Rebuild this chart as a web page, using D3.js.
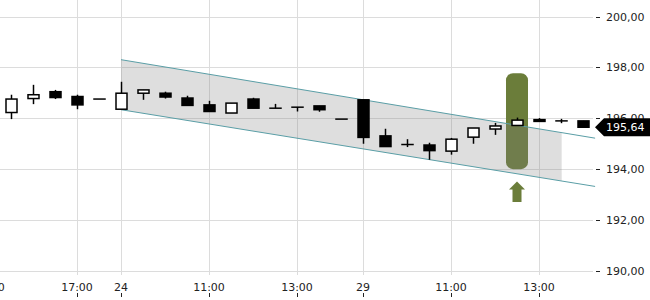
<!DOCTYPE html>
<html>
<head>
<meta charset="utf-8">
<script src="https://cdn.jsdelivr.net/npm/d3@7"></script>
<style>
  body { margin: 0; background: #fff; }
  svg text { font-family: "DejaVu Sans", sans-serif; }
</style>
</head>
<body>
<svg id="chart" width="650" height="300"></svg>
<script>
// candle data, one per half hour
const opens  = [196.22, 196.77, 197.04, 196.85, 196.75, 196.35, 196.98, 196.98, 196.79, 196.52, 196.20, 196.75, 196.39, 196.43,
                196.48, 195.96, 196.72, 195.30, 194.96, 194.94, 194.70, 195.25, 195.57, 195.71, 195.94, 195.89, 195.89];
const highs  = [196.92, 197.31, 197.11, 196.92, 196.75, 197.43, 197.11, 197.04, 196.88, 196.68, 196.59, 196.80, 196.56, 196.43,
                196.48, 195.96, 196.72, 195.58, 195.17, 195.03, 195.22, 195.61, 195.81, 196.02, 196.00, 195.97, 195.89];
const lows   = [195.96, 196.55, 196.75, 196.35, 196.75, 196.35, 196.72, 196.77, 196.50, 196.26, 196.20, 196.39, 196.39, 196.26,
                196.25, 195.96, 194.99, 194.88, 194.86, 194.36, 194.56, 194.99, 195.34, 195.71, 195.87, 195.80, 195.64];
const closes = [196.75, 196.92, 196.81, 196.52, 196.75, 196.98, 197.11, 196.83, 196.50, 196.26, 196.59, 196.39, 196.39, 196.43,
                196.33, 195.96, 195.24, 194.88, 194.96, 194.72, 195.17, 195.61, 195.69, 195.92, 195.87, 195.89, 195.64];

// x axis ticks (candle index) and labels
const xTickIdx = [-1, 3, 5, 9, 13, 16, 20, 24];
const xTickLabels = ["15:00", "17:00", "24", "11:00", "13:00", "29", "11:00", "13:00"];
const yTicks = [190, 192, 194, 196, 198, 200];

// trend channel: [index, upper, lower]
const channelStart = [5, 198.30, 196.33];
const channelEnd = [26.55, 195.21, 193.31];
const channelFillEnd = 25.03;

// signal marker
const signalIdx = 23;
const signalRange = [193.99, 197.77];
const arrowTip = 193.5;
const arrowBase = 192.7;
const lastPrice = 195.64;

const svg = d3.select("#chart");
const x = d3.scaleLinear().domain([0, 26]).range([11, 583]);
const y = d3.scaleLinear().domain([190, 200]).range([270.5, 16.5]);
const fmt = v => d3.format(".2f")(v).replace(".", ",");

// grid
svg.append("g")
  .selectAll("line")
  .data(yTicks)
  .join("line")
  .attr("x1", 0).attr("x2", 593)
  .attr("y1", d => Math.round(y(d)) + 0.5).attr("y2", d => Math.round(y(d)) + 0.5)
  .attr("stroke", "#dcdcdc");

svg.append("g")
  .selectAll("line")
  .data(xTickIdx)
  .join("line")
  .attr("x1", d => Math.round(x(d)) + 0.5).attr("x2", d => Math.round(x(d)) + 0.5)
  .attr("y1", 0).attr("y2", 275)
  .attr("stroke", "#dcdcdc");

// signal highlight
svg.append("rect")
  .attr("x", x(signalIdx) - 11)
  .attr("width", 22)
  .attr("y", y(signalRange[1]))
  .attr("height", y(signalRange[0]) - y(signalRange[1]))
  .attr("rx", 7)
  .attr("fill", "#6b7d3a");

// channel fill
const upperAt = i => channelStart[1] + (channelEnd[1] - channelStart[1]) * (i - channelStart[0]) / (channelEnd[0] - channelStart[0]);
const lowerAt = i => channelStart[2] + (channelEnd[2] - channelStart[2]) * (i - channelStart[0]) / (channelEnd[0] - channelStart[0]);
const fillPts = [
  [channelStart[0], upperAt(channelStart[0])],
  [channelFillEnd, upperAt(channelFillEnd)],
  [channelFillEnd, lowerAt(channelFillEnd)],
  [channelStart[0], lowerAt(channelStart[0])]
];
svg.append("path")
  .attr("d", d3.line().x(d => x(d[0])).y(d => y(d[1]))(fillPts) + "Z")
  .attr("fill", "rgb(127,127,127)")
  .attr("fill-opacity", 0.26);

svg.append("g")
  .selectAll("line")
  .data([1, 2])
  .join("line")
  .attr("x1", x(channelStart[0])).attr("y1", k => y(channelStart[k]))
  .attr("x2", x(channelEnd[0])).attr("y2", k => y(channelEnd[k]))
  .attr("stroke", "#5a9ea6")
  .attr("stroke-width", 1);

// arrow under the signal
const ax = x(signalIdx);
const ty = y(arrowTip), by = y(arrowBase);
svg.append("path")
  .attr("d", `M${ax},${ty} L${ax + 8},${ty + 8} L${ax + 4.5},${ty + 8} L${ax + 4.5},${by} L${ax - 4.5},${by} L${ax - 4.5},${ty + 8} L${ax - 8},${ty + 8} Z`)
  .attr("fill", "#6b7d3a");

// candles
const idx = d3.range(opens.length);
const candles = svg.append("g");
candles.selectAll("line.wick")
  .data(idx)
  .join("line")
  .attr("class", "wick")
  .attr("x1", i => Math.round(x(i)) + 0.5).attr("x2", i => Math.round(x(i)) + 0.5)
  .attr("y1", i => y(highs[i])).attr("y2", i => y(lows[i]))
  .attr("stroke", "#000")
  .attr("stroke-width", 1.5);

candles.selectAll("rect.body")
  .data(idx.filter(i => Math.abs(y(opens[i]) - y(closes[i])) >= 1.5))
  .join("rect")
  .attr("class", "body")
  .attr("x", i => Math.round(x(i)) + 0.5 - 5.5)
  .attr("width", 11)
  .attr("y", i => y(Math.max(opens[i], closes[i])))
  .attr("height", i => Math.abs(y(opens[i]) - y(closes[i])))
  .attr("fill", i => closes[i] >= opens[i] ? "#fff" : "#000")
  .attr("stroke", "#000")
  .attr("stroke-width", 1.5);

candles.selectAll("line.doji")
  .data(idx.filter(i => Math.abs(y(opens[i]) - y(closes[i])) < 1.5))
  .join("line")
  .attr("class", "doji")
  .attr("x1", i => Math.round(x(i)) + 0.5 - 6.25).attr("x2", i => Math.round(x(i)) + 0.5 + 6.25)
  .attr("y1", i => y((opens[i] + closes[i]) / 2)).attr("y2", i => y((opens[i] + closes[i]) / 2))
  .attr("stroke", "#000")
  .attr("stroke-width", 1.5);

// y axis
const yAxis = svg.append("g");
yAxis.selectAll("line")
  .data(yTicks)
  .join("line")
  .attr("x1", 596).attr("x2", 600)
  .attr("y1", d => Math.round(y(d)) + 0.5).attr("y2", d => Math.round(y(d)) + 0.5)
  .attr("stroke", "#222");
yAxis.selectAll("text")
  .data(yTicks)
  .join("text")
  .attr("x", 606)
  .attr("y", d => y(d) + 4)
  .attr("font-size", 11)
  .attr("fill", "#222")
  .text(fmt);

// x axis
const xAxis = svg.append("g");
xAxis.selectAll("text")
  .data(xTickIdx)
  .join("text")
  .attr("x", d => x(d))
  .attr("y", 291)
  .attr("text-anchor", "middle")
  .attr("font-size", 11)
  .attr("fill", "#222")
  .text((d, i) => xTickLabels[i]);
xAxis.selectAll("line")
  .data(xTickIdx)
  .join("line")
  .attr("x1", d => Math.round(x(d)) + 0.5).attr("x2", d => Math.round(x(d)) + 0.5)
  .attr("y1", 293).attr("y2", 297)
  .attr("stroke", "#222");

// last price tag
const py = y(lastPrice);
svg.append("path")
  .attr("d", `M595,${py} L604,${py - 9} L650,${py - 9} L650,${py + 9} L604,${py + 9} Z`)
  .attr("fill", "#000");
svg.append("text")
  .attr("x", 606)
  .attr("y", py + 4)
  .attr("font-size", 11)
  .attr("fill", "#fff")
  .text(fmt(lastPrice));
</script>
</body>
</html>
